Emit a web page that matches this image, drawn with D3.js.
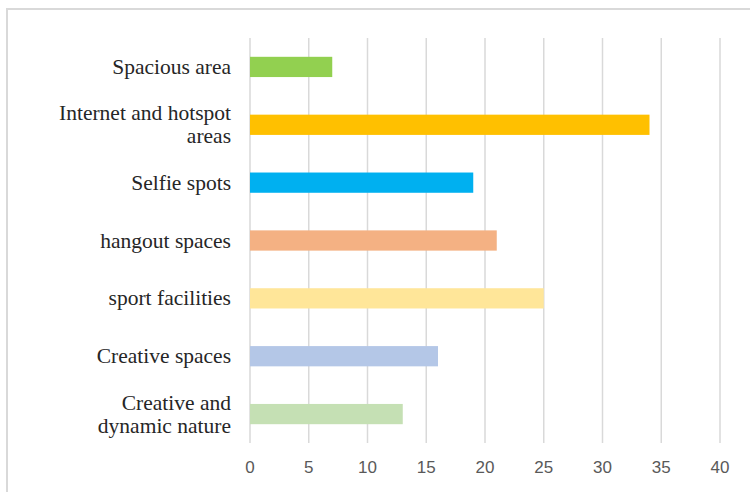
<!DOCTYPE html>
<html><head><meta charset="utf-8">
<script src="https://cdn.jsdelivr.net/npm/d3@7"></script>
<style>body{margin:0;background:#fff}svg{display:block}</style>
</head><body>
<svg id="c" width="750" height="492"></svg>
<script>
const categories = [["Spacious area"],["Internet and hotspot","areas"],["Selfie spots"],["hangout spaces"],["sport facilities"],["Creative spaces"],["Creative and","dynamic nature"]];
const values = [7,34,19,21,25,16,13];
const colors = ["#92D050","#FFC000","#00B0F0","#F4B183","#FFE699","#B4C7E7","#C5E0B4"];
const ticks = [0,5,10,15,20,25,30,35,40];

const svg = d3.select("#c");
svg.append("rect").attr("x",7).attr("y",9).attr("width",800).attr("height",600)
  .attr("fill","none").attr("stroke","#d9d9d9").attr("stroke-width",2);

const x = d3.scaleLinear().domain([0,40]).range([250,720]);
const y = d3.scaleBand().domain(d3.range(categories.length)).range([38,443]).paddingInner(0.65).paddingOuter(0.325);

svg.append("g").selectAll("line").data(ticks).join("line")
  .attr("x1",d=>x(d)).attr("x2",d=>x(d)).attr("y1",38).attr("y2",443)
  .attr("stroke","#d9d9d9").attr("stroke-width",1.5);

svg.append("g").selectAll("rect").data(values).join("rect")
  .attr("x",x(0)).attr("y",(d,i)=>y(i)).attr("width",d=>x(d)-x(0)).attr("height",y.bandwidth())
  .attr("fill",(d,i)=>colors[i]);

svg.append("g").selectAll("text").data(ticks).join("text")
  .attr("x",d=>x(d)).attr("y",473).attr("text-anchor","middle")
  .attr("font-family","'Liberation Sans Narrow','Liberation Sans',sans-serif").attr("font-size",17)
  .attr("fill","#595959").text(d=>d);

const lab = svg.append("g").selectAll("text").data(categories).join("text")
  .attr("text-anchor","end").attr("font-family","'Liberation Serif','Times New Roman',serif")
  .attr("font-size",21.5).attr("fill","#262626");
lab.each(function(lines,i){
  const t = d3.select(this);
  const cy = y(i)+y.bandwidth()/2;
  const lh = 23;
  const start = cy - (lines.length-1)*lh/2 + 7;
  lines.forEach((s,j)=>t.append("tspan").attr("x",231).attr("y",start+j*lh).text(s));
});
</script>
</body></html>
